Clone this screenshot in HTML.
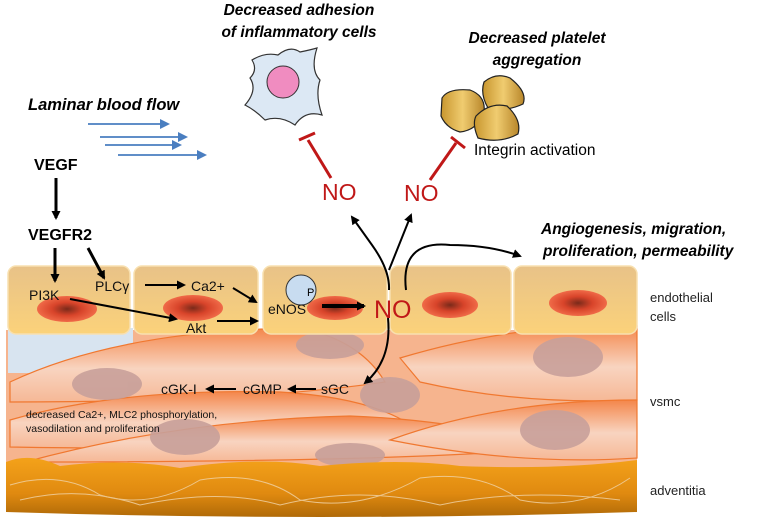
<!DOCTYPE html>
<html><head><meta charset="utf-8"><style>
html,body{margin:0;padding:0;background:#fff;}
svg{display:block;font-family:"Liberation Sans",sans-serif;}
</style></head><body>
<svg width="768" height="528" viewBox="0 0 768 528" xmlns="http://www.w3.org/2000/svg">
<defs>
<radialGradient id="nuc" cx="50%" cy="50%" r="50%"><stop offset="0" stop-color="#7a2a1a"/><stop offset="0.5" stop-color="#d8442a"/><stop offset="1" stop-color="#f06a48"/></radialGradient>
<linearGradient id="endo" x1="0" y1="0" x2="0" y2="1"><stop offset="0" stop-color="#e8c288"/><stop offset="1" stop-color="#fbd27a"/></linearGradient>
<linearGradient id="smc" x1="0" y1="0" x2="0" y2="1"><stop offset="0" stop-color="#f4864a"/><stop offset="0.55" stop-color="#f8d4c0"/><stop offset="1" stop-color="#f6b896"/></linearGradient>
<linearGradient id="adv" x1="0" y1="0" x2="0" y2="1"><stop offset="0" stop-color="#f4a21a"/><stop offset="0.6" stop-color="#e08a10"/><stop offset="1" stop-color="#b06a08"/></linearGradient>
<linearGradient id="plt" x1="0" y1="0" x2="1" y2="0"><stop offset="0" stop-color="#c8962e"/><stop offset="0.5" stop-color="#f0cc70"/><stop offset="1" stop-color="#b8862a"/></linearGradient>
<marker id="ah" markerWidth="9" markerHeight="9" refX="7" refY="4.5" orient="auto" markerUnits="userSpaceOnUse"><path d="M0,0 L9,4.5 L0,9 Z" fill="#000"/></marker>
<marker id="bh" markerWidth="10" markerHeight="10" refX="8" refY="5" orient="auto" markerUnits="userSpaceOnUse"><path d="M0,0 L10,5 L0,10 Z" fill="#4a7ec0"/></marker>
</defs>

<!-- vsmc layer base -->
<rect x="6" y="330" width="631" height="140" fill="#f6b48e"/>
<rect x="8" y="328" width="125" height="45" fill="#d8e4f0"/>
<g stroke="#f07830" stroke-width="1.2" fill="url(#smc)">
<path d="M10,382 Q120,330 300,328 Q360,340 385,382 Q250,402 10,402 Z"/>
<path d="M400,358 Q520,322 637,326 L637,400 Q520,405 420,382 Z"/>
<path d="M10,420 Q120,388 280,392 Q380,398 420,432 Q300,452 10,447 Z"/>
<path d="M25,462 Q180,420 350,416 Q460,420 560,448 Q400,462 25,462 Z"/>
<path d="M390,440 Q500,400 637,400 L637,458 Q520,466 390,440 Z"/>
</g>
<g fill="#c8a09a" opacity="0.9">
<ellipse cx="107" cy="384" rx="35" ry="16"/><ellipse cx="330" cy="345" rx="34" ry="14"/>
<ellipse cx="568" cy="357" rx="35" ry="20"/><ellipse cx="185" cy="437" rx="35" ry="18"/>
<ellipse cx="555" cy="430" rx="35" ry="20"/><ellipse cx="390" cy="395" rx="30" ry="18"/>
<ellipse cx="350" cy="455" rx="35" ry="12"/>
</g>

<!-- adventitia -->
<path d="M6,462 Q30,452 60,466 Q120,458 180,468 Q260,456 320,466 Q400,458 460,466 Q560,470 637,460 L637,512 Q320,522 6,512 Z" fill="url(#adv)"/>
<g fill="none" stroke="#f0d0a0" stroke-width="1" opacity="0.85">
<path d="M10,485 Q60,470 100,495 Q150,510 200,480 Q260,470 300,500 Q360,512 420,478 Q480,470 520,500 Q580,512 630,478"/>
<path d="M20,500 Q80,485 140,505 Q220,488 280,505 Q360,485 440,505 Q520,488 620,500"/>
</g>

<!-- endothelial cells -->
<g fill="url(#endo)" stroke="#f8e0b0" stroke-width="1.5">
<rect x="8" y="266" width="122" height="68" rx="8"/>
<rect x="134" y="266" width="124" height="68" rx="8"/>
<rect x="263" y="266" width="124" height="68" rx="8"/>
<rect x="390" y="266" width="121" height="68" rx="8"/>
<rect x="514" y="266" width="123" height="68" rx="8"/>
</g>
<g fill="url(#nuc)">
<ellipse cx="67" cy="309" rx="30" ry="13"/><ellipse cx="193" cy="308" rx="30" ry="13"/>
<ellipse cx="335" cy="308" rx="28" ry="12"/><ellipse cx="450" cy="305" rx="28" ry="13"/>
<ellipse cx="578" cy="303" rx="29" ry="13"/>
</g>
<circle cx="301" cy="290" r="15" fill="#c8dcf0" stroke="#333" stroke-width="1"/>
<text x="307" y="296" font-size="11">P</text>

<g font-size="14" fill="#111">
<text x="29" y="300">PI3K</text>
<text x="95" y="291">PLCγ</text>
<text x="191" y="291">Ca2+</text>
<text x="186" y="333">Akt</text>
<text x="268" y="314">eNOS</text>
<text x="321" y="394">sGC</text>
<text x="243" y="394">cGMP</text>
<text x="161" y="394">cGK-I</text>
</g>
<g font-size="10.5" fill="#111">
<text x="26" y="418">decreased Ca2+,  MLC2 phosphorylation,</text>
<text x="26" y="432">vasodilation and proliferation</text>
</g>

<g stroke="#000" stroke-width="2" fill="none" marker-end="url(#ah)">
<line x1="145" y1="285" x2="184" y2="285"/>
<line x1="233" y1="288" x2="256" y2="302"/>
<line x1="70" y1="299" x2="176" y2="319"/>
<line x1="217" y1="321" x2="257" y2="321"/>
<line x1="316" y1="389" x2="289" y2="389"/>
<line x1="236" y1="389" x2="207" y2="389"/>
</g>
<line x1="322" y1="306" x2="364" y2="306" stroke="#000" stroke-width="4" marker-end="url(#ah)"/>
<path d="M388,318 Q392,360 365,383" stroke="#000" stroke-width="2" fill="none" marker-end="url(#ah)"/>
<path d="M389,290 Q390,270 372,245 L352,217" stroke="#000" stroke-width="2" fill="none" marker-end="url(#ah)"/>
<path d="M389,270 L411,215" stroke="#000" stroke-width="2" fill="none" marker-end="url(#ah)"/>
<path d="M406,290 Q400,240 450,245 Q490,245 520,256" stroke="#000" stroke-width="2" fill="none" marker-end="url(#ah)"/>
<text x="374" y="318" font-size="25" fill="#c01818">NO</text>

<text x="34" y="170" font-size="16" font-weight="bold">VEGF</text>
<text x="28" y="240" font-size="16" font-weight="bold">VEGFR2</text>
<g stroke="#000" stroke-width="3" fill="none" marker-end="url(#ah)">
<line x1="56" y1="178" x2="56" y2="218"/>
<line x1="55" y1="248" x2="55" y2="281"/>
<line x1="88" y1="248" x2="104" y2="278"/>
</g>

<text x="28" y="110" font-size="16.5" font-weight="bold" font-style="italic">Laminar blood flow</text>
<g stroke="#4a7ec0" stroke-width="1.8" marker-end="url(#bh)">
<line x1="88" y1="124" x2="168" y2="124"/>
<line x1="100" y1="137" x2="186" y2="137"/>
<line x1="105" y1="145" x2="180" y2="145"/>
<line x1="118" y1="155" x2="205" y2="155"/>
</g>

<g font-size="15.5" font-weight="bold" font-style="italic" text-anchor="middle">
<text x="299" y="15">Decreased adhesion</text>
<text x="299" y="37">of inflammatory cells</text>
<text x="537" y="43">Decreased platelet</text>
<text x="537" y="65">aggregation</text>
</g>
<g font-size="15.5" font-weight="bold" font-style="italic">
<text x="541" y="234">Angiogenesis, migration,</text>
<text x="543" y="256">proliferation, permeability</text>
</g>
<path d="M252,60 Q265,52 278,55 Q290,45 300,52 Q310,50 317,48 Q310,70 320,80 Q315,95 322,115 Q305,110 295,125 Q280,115 265,120 Q255,110 245,105 Q258,90 250,78 Q258,70 252,60Z" fill="#dce8f4" stroke="#333" stroke-width="1.2"/>
<circle cx="283" cy="82" r="16" fill="#f08cc0" stroke="#333" stroke-width="1"/>
<g fill="url(#plt)" stroke="#222" stroke-width="1.2">
<path d="M442,98 Q448,88 470,90 Q486,96 484,112 Q478,130 460,132 Q446,128 441,116 Z"/>
<path d="M484,82 Q496,72 510,78 Q528,92 523,104 Q506,112 488,108 Q480,94 484,82Z"/>
<path d="M476,116 Q490,102 507,106 Q522,120 518,134 Q500,144 478,138 Q472,124 476,116Z"/>
</g>
<text x="474" y="155" font-size="15.5">Integrin activation</text>
<g stroke="#c01818" stroke-width="3">
<line x1="331" y1="178" x2="308" y2="140"/><line x1="299" y1="140" x2="315" y2="133"/>
<line x1="430" y1="180" x2="456" y2="143"/><line x1="451" y1="137" x2="465" y2="148"/>
</g>
<text x="322" y="200" font-size="23" fill="#c01818">NO</text>
<text x="404" y="201" font-size="23" fill="#c01818">NO</text>

<g font-size="13" fill="#222">
<text x="650" y="302">endothelial</text>
<text x="650" y="321">cells</text>
<text x="650" y="406">vsmc</text>
<text x="650" y="495">adventitia</text>
</g>
</svg>
</body></html>
